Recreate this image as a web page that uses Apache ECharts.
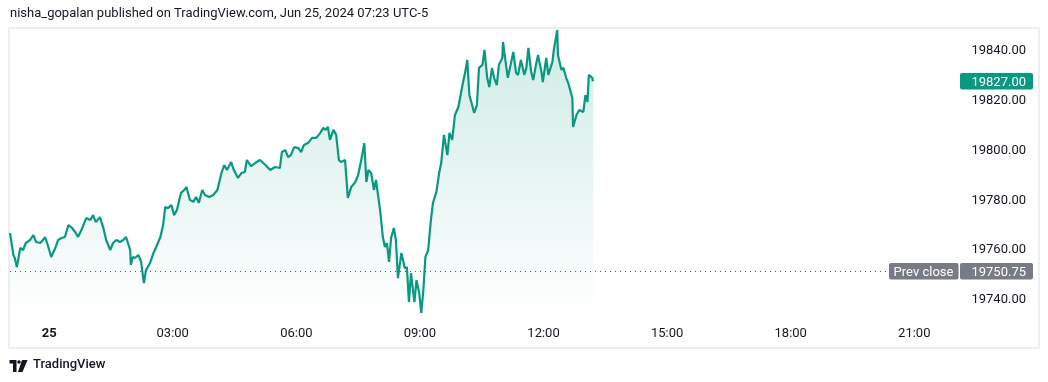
<!DOCTYPE html>
<html><head><meta charset="utf-8">
<script src="https://cdn.jsdelivr.net/npm/echarts@6/dist/echarts.min.js"></script>
<style>html,body{margin:0;padding:0;background:#fff}#c{width:1048px;height:382px}</style>
</head><body><div id="c"></div>
<script>
const title = 'nisha_gopalan published on TradingView.com, Jun 25, 2024 07:23 UTC-5';
const times = [
"23:03","23:08","23:10","23:13","23:18","23:22","23:26","23:32","23:37","23:41","23:47","23:51","23:54","23:58",
"00:03","00:09","00:13","00:18","00:23","00:28","00:32","00:38","00:42","00:47","00:54","01:00","01:04","01:08",
"01:14","01:19","01:23","01:29","01:33","01:38","01:43","01:48","01:52","01:58","01:59","02:02","02:05","02:10",
"02:14","02:18","02:21","02:27","02:32","02:36","02:42","02:46","02:49","02:53","02:58","03:02","03:06","03:12",
"03:17","03:20","03:25","03:30","03:34","03:38","03:43","03:47","03:53","03:59","04:05","04:11","04:15","04:19",
"04:25","04:29","04:35","04:40","04:45","04:48","04:54","05:00","05:07","05:15","05:22","05:29","05:36","05:39",
"05:44","05:48","05:52","05:57","06:03","06:07","06:11","06:17","06:23","06:29","06:35","06:39","06:43","06:46",
"06:49","06:54","06:58","07:02","07:05","07:11","07:15","07:20","07:26","07:30","07:34","07:39","07:42","07:45",
"07:49","07:53","07:56","08:02","08:04","08:06","08:09","08:12","08:15","08:18","08:22","08:25","08:28","08:33",
"08:36","08:38","08:41","08:44","08:47","08:52","08:55","08:59","09:02","09:05","09:08","09:12","09:16","09:19",
"09:24","09:28","09:31","09:35","09:40","09:43","09:47","09:51","09:56","10:02","10:06","10:09","10:12","10:16",
"10:19","10:23","10:26","10:31","10:34","10:38","10:41","10:45","10:48","10:52","10:55","11:00","11:01","11:06",
"11:08","11:13","11:16","11:20","11:23","11:27","11:32","11:35","11:38","11:42","11:45","11:49","11:52","11:57",
"11:59","12:04","12:07","12:13","12:15","12:20","12:21","12:26","12:29","12:33","12:36","12:42","12:43","12:48",
"12:52","12:58","13:01","13:04","13:06","13:11","13:12"];
const prices = [
19766.1,19757.3,19756.1,19752.4,19760.1,19759.3,19762.1,19763.3,19765.3,19762.5,19762.1,19763.3,19764.5,19761.3,
19756.5,19760.1,19763.3,19764.1,19764.5,19769.3,19768.5,19766.5,19764.5,19767.3,19772.1,19771.3,19773.3,19770.5,
19772.5,19768.1,19763.3,19759.3,19762.1,19763.3,19762.5,19763.3,19764.5,19759.3,19753.3,19756.5,19756.1,19757.3,
19754.5,19746.0,19751.2,19754.1,19758.1,19760.5,19764.5,19769.3,19776.5,19776.1,19777.3,19773.3,19775.3,19782.2,
19783.4,19784.6,19779.4,19778.6,19780.6,19778.2,19783.4,19781.4,19780.6,19781.4,19783.4,19790.2,19793.4,19791.4,
19794.6,19791.4,19788.2,19790.2,19790.6,19795.4,19793.0,19794.2,19795.4,19793.4,19791.4,19792.6,19792.2,19798.6,
19799.4,19796.6,19797.4,19800.6,19800.2,19798.6,19801.4,19802.2,19804.3,19804.3,19806.3,19808.3,19807.5,19808.7,
19803.5,19807.5,19805.5,19795.4,19794.6,19795.4,19780.2,19784.6,19786.6,19789.4,19794.6,19802.2,19786.6,19791.4,
19790.2,19783.4,19787.4,19775.3,19770.1,19764.5,19760.5,19762.1,19754.5,19764.1,19768.1,19763.3,19748.0,19758.1,
19754.5,19752.0,19752.4,19738.4,19750.0,19738.4,19747.2,19742.0,19734.0,19743.2,19756.5,19759.3,19771.3,19778.2,
19782.6,19790.2,19794.2,19805.5,19797.4,19806.3,19803.5,19813.5,19816.7,19825.5,19830.8,19835.6,19821.5,19817.5,
19814.3,19817.5,19832.4,19833.6,19839.6,19828.4,19824.7,19832.4,19828.4,19825.5,19833.6,19836.4,19842.8,19832.4,
19828.4,19834.8,19838.8,19830.4,19829.6,19835.6,19829.6,19832.4,19840.4,19830.8,19827.5,19833.6,19837.6,19830.8,
19826.7,19836.4,19829.6,19834.8,19839.6,19847.6,19837.6,19831.6,19832.4,19828.4,19826.3,19820.3,19808.7,19813.5,
19815.5,19814.7,19821.5,19818.7,19829.6,19828.4,19827.0];
const xTickMinutes = [0,180,360,540,720,900,1080,1260];
const xTickLabels = ['25','03:00','06:00','09:00','12:00','15:00','18:00','21:00'];
const yTicks = [19740,19760,19780,19800,19820,19840];
const prevClose = 19750.75;
const lastPrice = 19827.00;

function toMin(s){const p=s.split(':').map(Number);let v=p[0]*60+p[1];if(p[0]>=18)v-=1440;return v;}
const seriesData = times.map((t,i)=>[toMin(t), prices[i]]);
const FONT = 'Roboto';
const TXT = '#131722';
const GREEN = '#089981';
const GRAY = '#787b86';

const chart = echarts.init(document.getElementById('c'), null, {renderer:'canvas'});
chart.setOption({
  animation:false,
  backgroundColor:'#ffffff',
  grid:{left:10, right:98, top:29, bottom:64},
  xAxis:{type:'value', min:-57, max:1312,
    axisLine:{show:false}, axisTick:{show:false}, splitLine:{show:false},
    axisLabel:{customValues:xTickMinutes, margin:9, color:TXT, fontSize:13, fontFamily:FONT,
      formatter:function(v){const i=xTickMinutes.indexOf(v);const s=i>=0?xTickLabels[i]:'';return i===0?'{b|'+s+'}':s;},
      rich:{b:{fontWeight:'bold', fontSize:13, fontFamily:FONT, color:TXT}}}},
  yAxis:{type:'value', position:'right', min:19732, max:19848,
    axisLine:{show:false}, axisTick:{show:false}, splitLine:{show:false},
    axisLabel:{customValues:yTicks, align:'right', margin:76, color:TXT, fontSize:13, fontFamily:FONT,
      formatter:function(v){return '{a|'+v.toFixed(2)+'}';},
      rich:{a:{fontSize:13, fontFamily:FONT, color:TXT, padding:[4,0,0,0]}}}},
  series:[{type:'line', data:seriesData, showSymbol:false, symbol:'none',
    lineStyle:{color:GREEN, width:2.2}, itemStyle:{color:GREEN},
    areaStyle:{color:new echarts.graphic.LinearGradient(0,0,0,1,[
      {offset:0,color:'rgba(8,153,129,0.28)'},{offset:1,color:'rgba(8,153,129,0.0)'}])},
    markLine:{silent:true, symbol:'none', animation:false, label:{show:false},
      lineStyle:{color:'#50535e', type:[1,4], width:1},
      data:[{yAxis:prevClose}]}
  }]
});

const yLast = chart.convertToPixel({yAxisIndex:0}, lastPrice);
const yPrev = chart.convertToPixel({yAxisIndex:0}, prevClose);
chart.setOption({graphic:[
  {type:'rect', z:0, silent:true, shape:{x:9, y:28, width:1030, height:320}, style:{fill:'none', stroke:'#eceef3', lineWidth:2}},
  {type:'text', left:10, top:7, silent:true, style:{text:title, fill:TXT, font:'13px '+FONT}},
  {type:'rect', z:100, silent:true, shape:{x:960, y:yLast-8.2, width:73, height:16.4, r:2}, style:{fill:GREEN}},
  {type:'text', z:101, silent:true, style:{x:1026, y:yLast+1.5, text:lastPrice.toFixed(2), fill:'#fff', font:'13px '+FONT, align:'right', verticalAlign:'middle'}},
  {type:'rect', z:100, silent:true, shape:{x:889, y:yPrev-8.2, width:69.5, height:16.4, r:2}, style:{fill:GRAY}},
  {type:'text', z:101, silent:true, style:{x:923.5, y:yPrev+1.5, text:'Prev close', fill:'#fff', font:'13px '+FONT, align:'center', verticalAlign:'middle'}},
  {type:'rect', z:100, silent:true, shape:{x:960, y:yPrev-8.2, width:73, height:16.4, r:2}, style:{fill:GRAY}},
  {type:'text', z:101, silent:true, style:{x:1026, y:yPrev+1.5, text:prevClose.toFixed(2), fill:'#fff', font:'13px '+FONT, align:'right', verticalAlign:'middle'}},
  {type:'polygon', z:100, silent:true, shape:{points:[[9.5,360],[16.5,360],[16.5,372],[13,372],[13,363.5],[9.5,363.5]]}, style:{fill:TXT}},
  {type:'circle', z:100, silent:true, shape:{cx:19,cy:362,r:1.8}, style:{fill:TXT}},
  {type:'polygon', z:100, silent:true, shape:{points:[[22,360],[27.5,360],[22.5,372],[18,372]]}, style:{fill:TXT}},
  {type:'text', left:33, top:358, silent:true, style:{text:'TradingView', fill:TXT, font:'500 13px '+FONT}}
]});
</script></body></html>
